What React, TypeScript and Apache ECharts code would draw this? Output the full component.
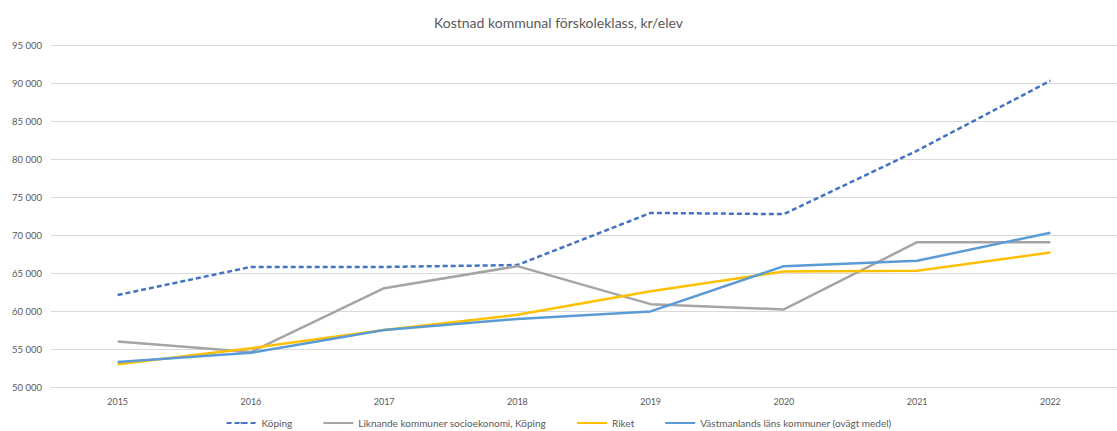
import React, { useEffect, useRef } from "react";
import * as echarts from "echarts";

const years = ["2015", "2016", "2017", "2018", "2019", "2020", "2021", "2022"];
const koping = [62100, 65800, 65800, 66050, 72900, 72750, 81100, 90300];
const liknande = [56000, 54600, 63000, 65900, 60900, 60200, 69050, 69050];
const riket = [53000, 55100, 57500, 59500, 62600, 65200, 65300, 67700];
const vastmanland = [53300, 54500, 57500, 58950, 59950, 65900, 66600, 70300];

const seriesNames = [
  "Köping",
  "Liknande kommuner socioekonomi, Köping",
  "Riket",
  "Västmanlands läns kommuner (ovägt medel)",
];

const FONT = "Lato, 'Open Sans', sans-serif";

export default function App() {
  const ref = useRef<HTMLDivElement>(null);
  useEffect(() => {
    document.body.style.margin = "0";
    const chart = echarts.init(ref.current!, undefined, { renderer: "svg" });
    const mk = (name: string, data: number[], color: string, dashed = false) => ({
      name,
      type: "line",
      data,
      showSymbol: false,
      symbol: "none",
      lineStyle: { color, width: 2.5, type: dashed ? [5, 3] : "solid" },
      itemStyle: { color },
    });
    chart.setOption({
      animation: false,
      textStyle: { fontFamily: FONT },
      title: {
        text: "Kostnad kommunal förskoleklass, kr/elev",
        left: "center",
        top: 10,
        textStyle: { fontFamily: FONT, fontSize: 14, fontWeight: "normal", color: "#595959" },
      },
      legend: {
        bottom: -2,
        left: "center",
        itemWidth: 30,
        itemHeight: 3,
        itemGap: 30,
        textStyle: { fontFamily: FONT, fontSize: 10, color: "#595959" },
        data: seriesNames,
      },
      grid: { left: 51, right: -9, top: 45, bottom: 44, containLabel: false },
      xAxis: {
        type: "category",
        data: years,
        boundaryGap: true,
        axisLine: { lineStyle: { color: "#d9d9d9" } },
        axisTick: { show: false },
        axisLabel: { color: "#595959", fontSize: 9, margin: 10, fontFamily: FONT },
      },
      yAxis: {
        type: "value",
        min: 50000,
        max: 95000,
        interval: 5000,
        axisLine: { show: false },
        axisTick: { show: false },
        splitLine: { lineStyle: { color: "#d9d9d9" } },
        axisLabel: {
          color: "#595959",
          fontSize: 9.5,
          margin: 9,
          fontFamily: FONT,
          formatter: (v: number) => String(v).replace(/\B(?=(\d{3})+(?!\d))/g, " "),
        },
      },
      series: [
        mk(seriesNames[0], koping, "#4472C4", true),
        mk(seriesNames[1], liknande, "#A5A5A5"),
        mk(seriesNames[2], riket, "#FFC000"),
        mk(seriesNames[3], vastmanland, "#5B9BD5"),
      ],
    });
    return () => chart.dispose();
  }, []);
  return <div ref={ref} style={{ width: 1117, height: 431 }} />;
}
